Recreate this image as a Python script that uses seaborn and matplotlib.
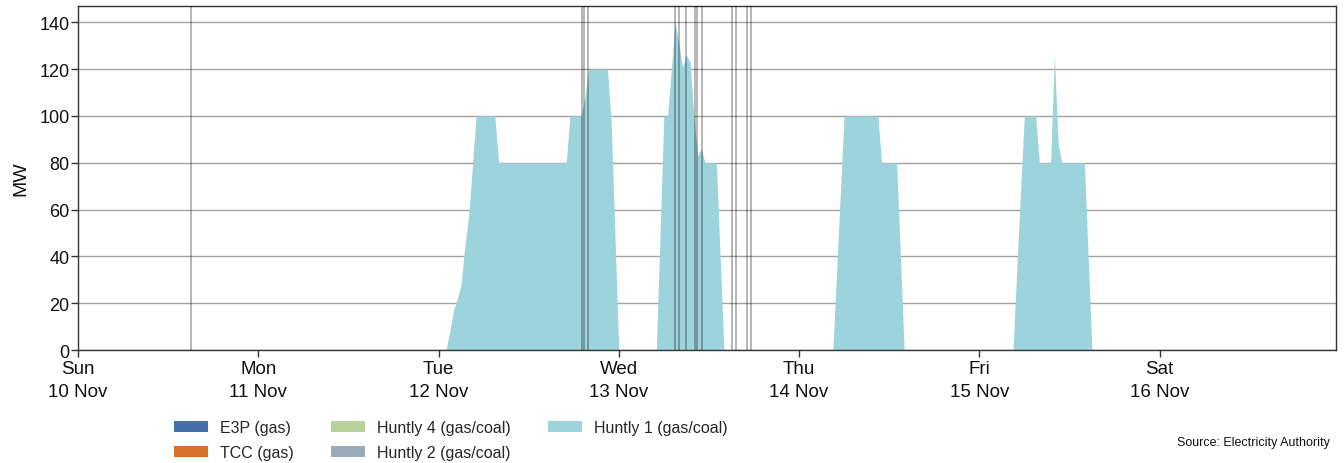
import numpy as np
import pandas as pd
import matplotlib
matplotlib.use("Agg")
import matplotlib.pyplot as plt
import seaborn as sns

# Half-hourly trading periods covering the week
week_start = "2019-11-10 00:00"
n_periods = 336

# Huntly 1 output (MW), one value per half-hour from each block's start
tue_start = "2019-11-12 01:00"
tue_mw = [0, 8, 17, 22, 28, 44, 57, 78,
          100, 100, 100, 100, 100, 100,
          80, 80, 80, 80, 80, 80, 80, 80, 80, 80,
          80, 80, 80, 80, 80, 80, 80, 80, 80,
          100, 100, 100, 100, 108,
          120, 120, 120, 120, 120, 120,
          97, 48, 0]

wed_start = "2019-11-13 05:00"
wed_mw = [0, 50, 100, 100, 120, 140, 131, 121, 126, 123, 100, 83, 86,
          80, 80, 80, 80, 40, 0]

thu_start = "2019-11-14 04:30"
thu_mw = [0, 33, 67,
          100, 100, 100, 100, 100, 100, 100, 100, 100, 100,
          80, 80, 80, 80, 80, 40, 0]

fri_start = "2019-11-15 04:30"
fri_mw = [0, 35, 68, 100, 100, 100, 100, 80, 80, 80, 80, 126, 88,
          80, 80, 80, 80, 80, 80, 80, 40, 0]

# Stations in stack order
stations = ["E3P (gas)", "TCC (gas)", "Huntly 4 (gas/coal)",
            "Huntly 2 (gas/coal)", "Huntly 1 (gas/coal)"]
station_colors = ["#4470ab", "#d4702a", "#b6d49a", "#9aaab8", "#9dd3dd"]

# Times of notices marked on the chart
event_times = ["2019-11-10 15:03",
               "2019-11-12 19:08", "2019-11-12 19:22", "2019-11-12 19:58",
               "2019-11-13 07:29", "2019-11-13 08:04", "2019-11-13 08:57",
               "2019-11-13 10:07", "2019-11-13 10:25", "2019-11-13 11:02",
               "2019-11-13 15:02", "2019-11-13 15:34",
               "2019-11-13 17:02", "2019-11-13 17:34"]

day_ticks = ["2019-11-10", "2019-11-11", "2019-11-12", "2019-11-13",
             "2019-11-14", "2019-11-15", "2019-11-16"]
day_labels = ["Sun\n10 Nov", "Mon\n11 Nov", "Tue\n12 Nov", "Wed\n13 Nov",
              "Thu\n14 Nov", "Fri\n15 Nov", "Sat\n16 Nov"]

# Assemble the half-hourly frame
times = pd.date_range(week_start, periods=n_periods, freq="30min")
gen = pd.DataFrame(0.0, index=times, columns=stations)
for start, vals in [(tue_start, tue_mw), (wed_start, wed_mw),
                    (thu_start, thu_mw), (fri_start, fri_mw)]:
    idx = pd.date_range(start, periods=len(vals), freq="30min")
    gen.loc[idx, "Huntly 1 (gas/coal)"] = vals

sns.set_theme(style="white", context="notebook")
plt.rcParams["font.family"] = ["Liberation Sans", "DejaVu Sans"]

W, H = 1344, 464
fig = plt.figure(figsize=(W / 100, H / 100), dpi=100)
ax = fig.add_axes([78 / W, 1 - 351 / H, (1336 - 78) / W, (351 - 7) / H])

ax.stackplot(gen.index, *[gen[s].values for s in stations],
             colors=station_colors, labels=stations, linewidth=0, zorder=2)

for t in event_times:
    ax.axvline(pd.Timestamp(t), color="black", alpha=0.36, lw=1.1, zorder=3)

ax.set_xlim(times[0], times[-1])
ax.set_ylim(0, 147)
ax.set_yticks(np.arange(0, 141, 20))
ax.yaxis.grid(True, color="#a3a3a3", lw=1.0, zorder=0)
ax.xaxis.grid(False)
ax.set_axisbelow(True)

ax.set_xticks(pd.to_datetime(day_ticks))
ax.set_xticklabels(day_labels, linespacing=1.5)
ax.tick_params(axis="x", bottom=True, direction="out", length=5, width=1,
               color="#333333", labelsize=13.5, pad=2, labelcolor="#111111")
ax.tick_params(axis="y", left=True, direction="out", length=5, width=1,
               color="#333333", labelsize=13, pad=1, labelcolor="#111111")
ax.set_ylabel("MW", fontsize=14, color="#111111", labelpad=7)

for sp in ax.spines.values():
    sp.set_visible(True)
    sp.set_color("#333333")
    sp.set_linewidth(1.0)

handles, labels = ax.get_legend_handles_labels()
fig.legend(handles, labels, ncol=3, frameon=False, fontsize=11.5,
           loc="upper left", bbox_to_anchor=(166 / W, 1 - 413 / H),
           borderpad=0, handlelength=2.15, handleheight=0.72,
           handletextpad=0.75, columnspacing=2.3, labelspacing=0.62)

fig.text(1330 / W, 1 - 443 / H, "Source: Electricity Authority",
         ha="right", va="center", fontsize=9, color="#111111")

fig.savefig("out.png", dpi=100)
